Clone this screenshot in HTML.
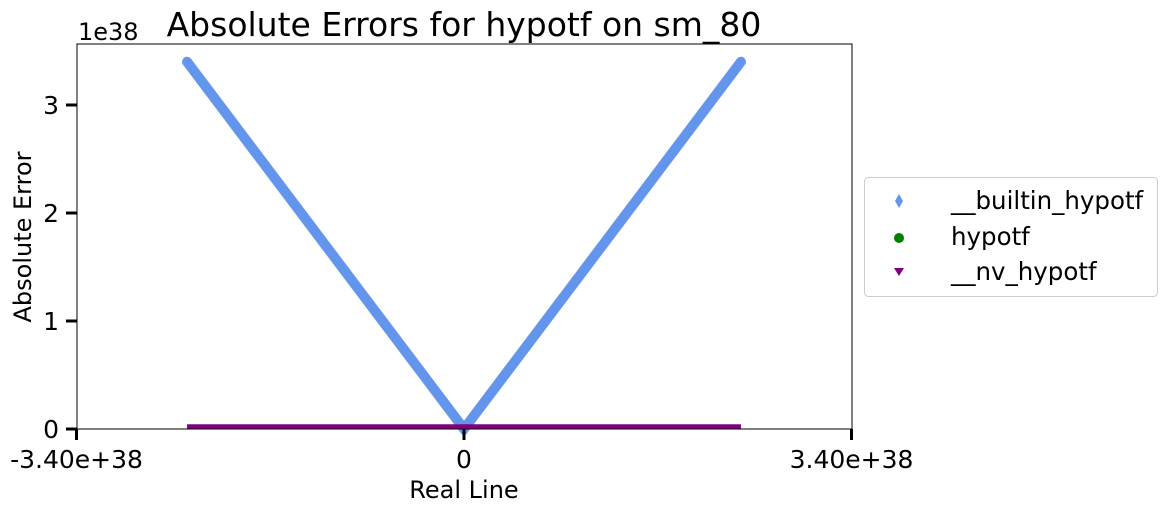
<!DOCTYPE html>
<html><head><meta charset="utf-8"><style>
body{margin:0;background:#fff;}
svg{display:block;font-family:"DejaVu Sans","Liberation Sans",sans-serif;}
</style></head><body>
<svg width="1168" height="511" viewBox="0 0 1168 511">
<text x="464" y="36" font-size="33" text-anchor="middle">Absolute Errors for hypotf on sm_80</text>
<g id="plot"></g>
<rect x="77" y="44" width="775" height="385" fill="none" stroke="#000" stroke-width="1"/>
<g id="xaxis"></g>
<g id="yaxis"></g>
<text x="464" y="498" font-size="24" text-anchor="middle">Real Line</text>
<text transform="translate(31,237) rotate(-90)" font-size="24" text-anchor="middle">Absolute Error</text>
<text x="78" y="40" font-size="24">1e38</text>
<g>
<rect x="864.5" y="177.5" width="293" height="119" rx="4" fill="#fff" stroke="#ccc"/>
<g>
<polygon points="899,194 903,201 899,208 895,201" fill="#6495ed"/>
<text x="951" y="209" font-size="24.5">__builtin_hypotf</text></g>
<g>
<circle cx="899" cy="238" r="5" fill="#008000"/>
<text x="951" y="245" font-size="24.5">hypotf</text></g>
<g>
<polygon points="894,268 904,268 899,276" fill="#800080"/>
<text x="951" y="280" font-size="24.5">__nv_hypotf</text></g>
</g>
</svg>
<script>
const xsBuiltin=[-2.43e38,0,2.43e38];
const ysBuiltin=[3.40e38,0,3.40e38];
const xsNv=[-2.43e38,2.43e38];
const ysNv=[0.002e38,0.002e38];
const xTicks=[-3.4e38,0,3.4e38];
const xTickLabels=["-3.40e+38","0","3.40e+38"];
const yTicks=[0,1e38,2e38,3e38];
const yTickLabels=["0","1","2","3"];
const NS="http://www.w3.org/2000/svg";
function X(v){return 464+v*(775/6.8e38);}
function Y(v){return 429-v*108/1e38;}
function mk(t,a,p){const e=document.createElementNS(NS,t);for(const k in a)e.setAttribute(k,a[k]);p.appendChild(e);return e;}
const plot=document.getElementById('plot');
const l1=mk('polyline',{points:xsBuiltin.map((x,i)=>X(x)+','+Y(ysBuiltin[i])).join(' '),fill:'none',stroke:'#6495ed','stroke-width':10,'stroke-linejoin':'miter','stroke-linecap':'round'},plot);


const l2=mk('polyline',{points:xsNv.map((x,i)=>X(x)+','+(Y(ysNv[i])-2)).join(' '),fill:'none',stroke:'#800080','stroke-width':5},plot);


const xa=document.getElementById('xaxis');
xTicks.forEach((t,i)=>{
 const ln=mk('line',{x1:X(t),x2:X(t),y1:429,y2:440,stroke:'#000','stroke-width':3},xa);
 
 
 const tx=mk('text',{x:X(t),y:468,'font-size':25,'text-anchor':'middle'},xa);
 tx.textContent=xTickLabels[i];
 
 
});
const ya=document.getElementById('yaxis');
yTicks.forEach((t,i)=>{
 const ln=mk('line',{x1:66,x2:77,y1:Y(t),y2:Y(t),stroke:'#000','stroke-width':3},ya);
 
 
 const tx=mk('text',{x:59,y:Y(t)+9,'font-size':25,'text-anchor':'end'},ya);
 tx.textContent=yTickLabels[i];
 
 
});
</script>
</body></html>
